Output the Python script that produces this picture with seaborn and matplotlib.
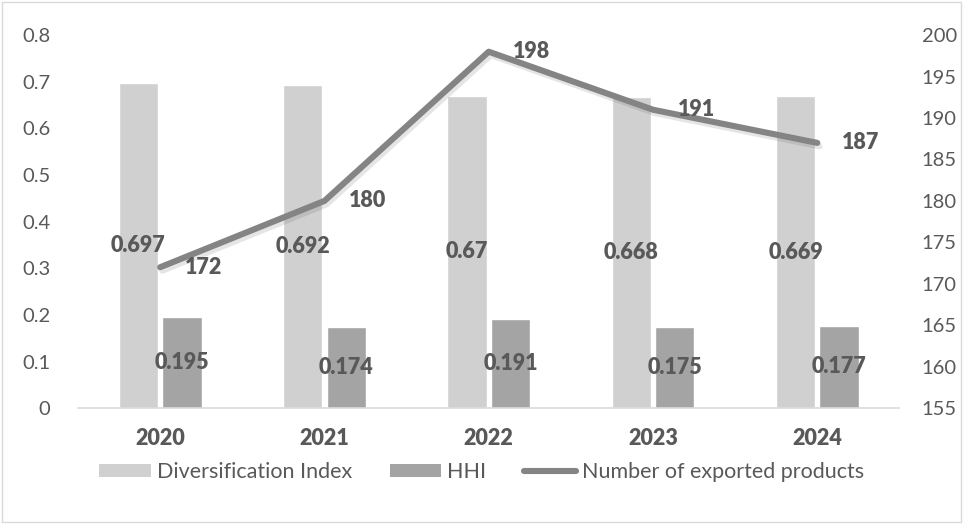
import numpy as np
import pandas as pd
import matplotlib
matplotlib.use("Agg")
import matplotlib.pyplot as plt
import matplotlib.patheffects as pe
from matplotlib.patches import Rectangle, Patch
from matplotlib.lines import Line2D
import seaborn as sns

# data
years = ["2020", "2021", "2022", "2023", "2024"]
div_index = [0.697, 0.692, 0.670, 0.668, 0.669]
hhi = [0.195, 0.174, 0.191, 0.175, 0.177]
n_products = [172, 180, 198, 191, 187]

sns.set_theme(style="white")
plt.rcParams["font.family"] = ["Lato", "DejaVu Sans"]

txt = "#595959"
c_div = "#d0d0d0"
c_hhi = "#a4a4a4"
c_line = "#848484"
fs_tick = 14.5
fs_lab = 15.5

df = pd.DataFrame({
    "Year": years * 2,
    "Value": div_index + hhi,
    "Series": ["Diversification Index"] * 5 + ["HHI"] * 5,
})

fig = plt.figure(figsize=(9.63, 5.24), dpi=100)
ax = fig.add_axes([0.081, 0.221, 0.853, 0.712])

sns.barplot(data=df, x="Year", y="Value", hue="Series",
            palette=[c_div, c_hhi], width=0.53, gap=0.1,
            legend=False, ax=ax, saturation=1)

ax.set_ylim(0, 0.8)
ax.set_xlim(-0.5, 4.5)
ax.set_yticks(np.arange(0, 0.81, 0.1))
ax.set_yticklabels(["0"] + [f"{v:.1f}" for v in np.arange(0.1, 0.81, 0.1)])
ax.set_xlabel("")
ax.set_ylabel("")
for s in ["top", "left", "right"]:
    ax.spines[s].set_visible(False)
ax.spines["bottom"].set_color("#d9d9d9")
ax.spines["bottom"].set_linewidth(1.2)
ax.tick_params(axis="y", length=0, pad=20, labelsize=fs_tick, labelcolor=txt)
ax.tick_params(axis="x", length=0, pad=14, labelsize=fs_lab, labelcolor=txt)
for lb in ax.get_xticklabels():
    lb.set_fontweight("heavy")

# bar labels centered
for cont in ax.containers:
    for rect in cont:
        h = rect.get_height()
        lbl = f"{h:.3f}".rstrip("0")
        ax.text(rect.get_x() + rect.get_width() / 2, h / 2, lbl,
                ha="center", va="center", fontsize=fs_lab, fontweight="heavy",
                color=txt)

ax2 = ax.twinx()
sns.lineplot(x=np.arange(len(years)), y=n_products, ax=ax2, color=c_line,
             linewidth=4.4, solid_capstyle="round",
             path_effects=[pe.SimpleLineShadow(offset=(1.5, -2.5), alpha=0.15,
                                               shadow_color="#555555"),
                           pe.Normal()])
ax2.set_ylim(155, 200)
ax2.set_yticks(np.arange(155, 201, 5))
for s in ["top", "left", "right", "bottom"]:
    ax2.spines[s].set_visible(False)
ax2.tick_params(axis="y", length=0, pad=16, labelsize=fs_tick, labelcolor=txt)
ax2.grid(False)
ax2.set_ylabel("")

for i, v in enumerate(n_products):
    ax2.text(i + 0.15, v, str(v), ha="left", va="center", fontsize=fs_lab,
             fontweight="heavy", color=txt)

handles = [
    Patch(facecolor=c_div, edgecolor="none", label="Diversification Index"),
    Patch(facecolor=c_hhi, edgecolor="none", label="HHI"),
    Line2D([0], [0], color=c_line, linewidth=4.4, solid_capstyle="round",
           label="Number of exported products"),
]
fig.legend(handles=handles, loc="center", bbox_to_anchor=(0.5, 0.099), ncol=3,
           frameon=False, fontsize=fs_lab, labelcolor=txt, handlelength=2.4,
           handleheight=0.5, handletextpad=0.28, columnspacing=1.75)

fig.patches.append(Rectangle((0.002, 0.004), 0.996, 0.992, transform=fig.transFigure,
                             fill=False, edgecolor="#d9d9d9", linewidth=1))

fig.savefig("out.png", dpi=100)
